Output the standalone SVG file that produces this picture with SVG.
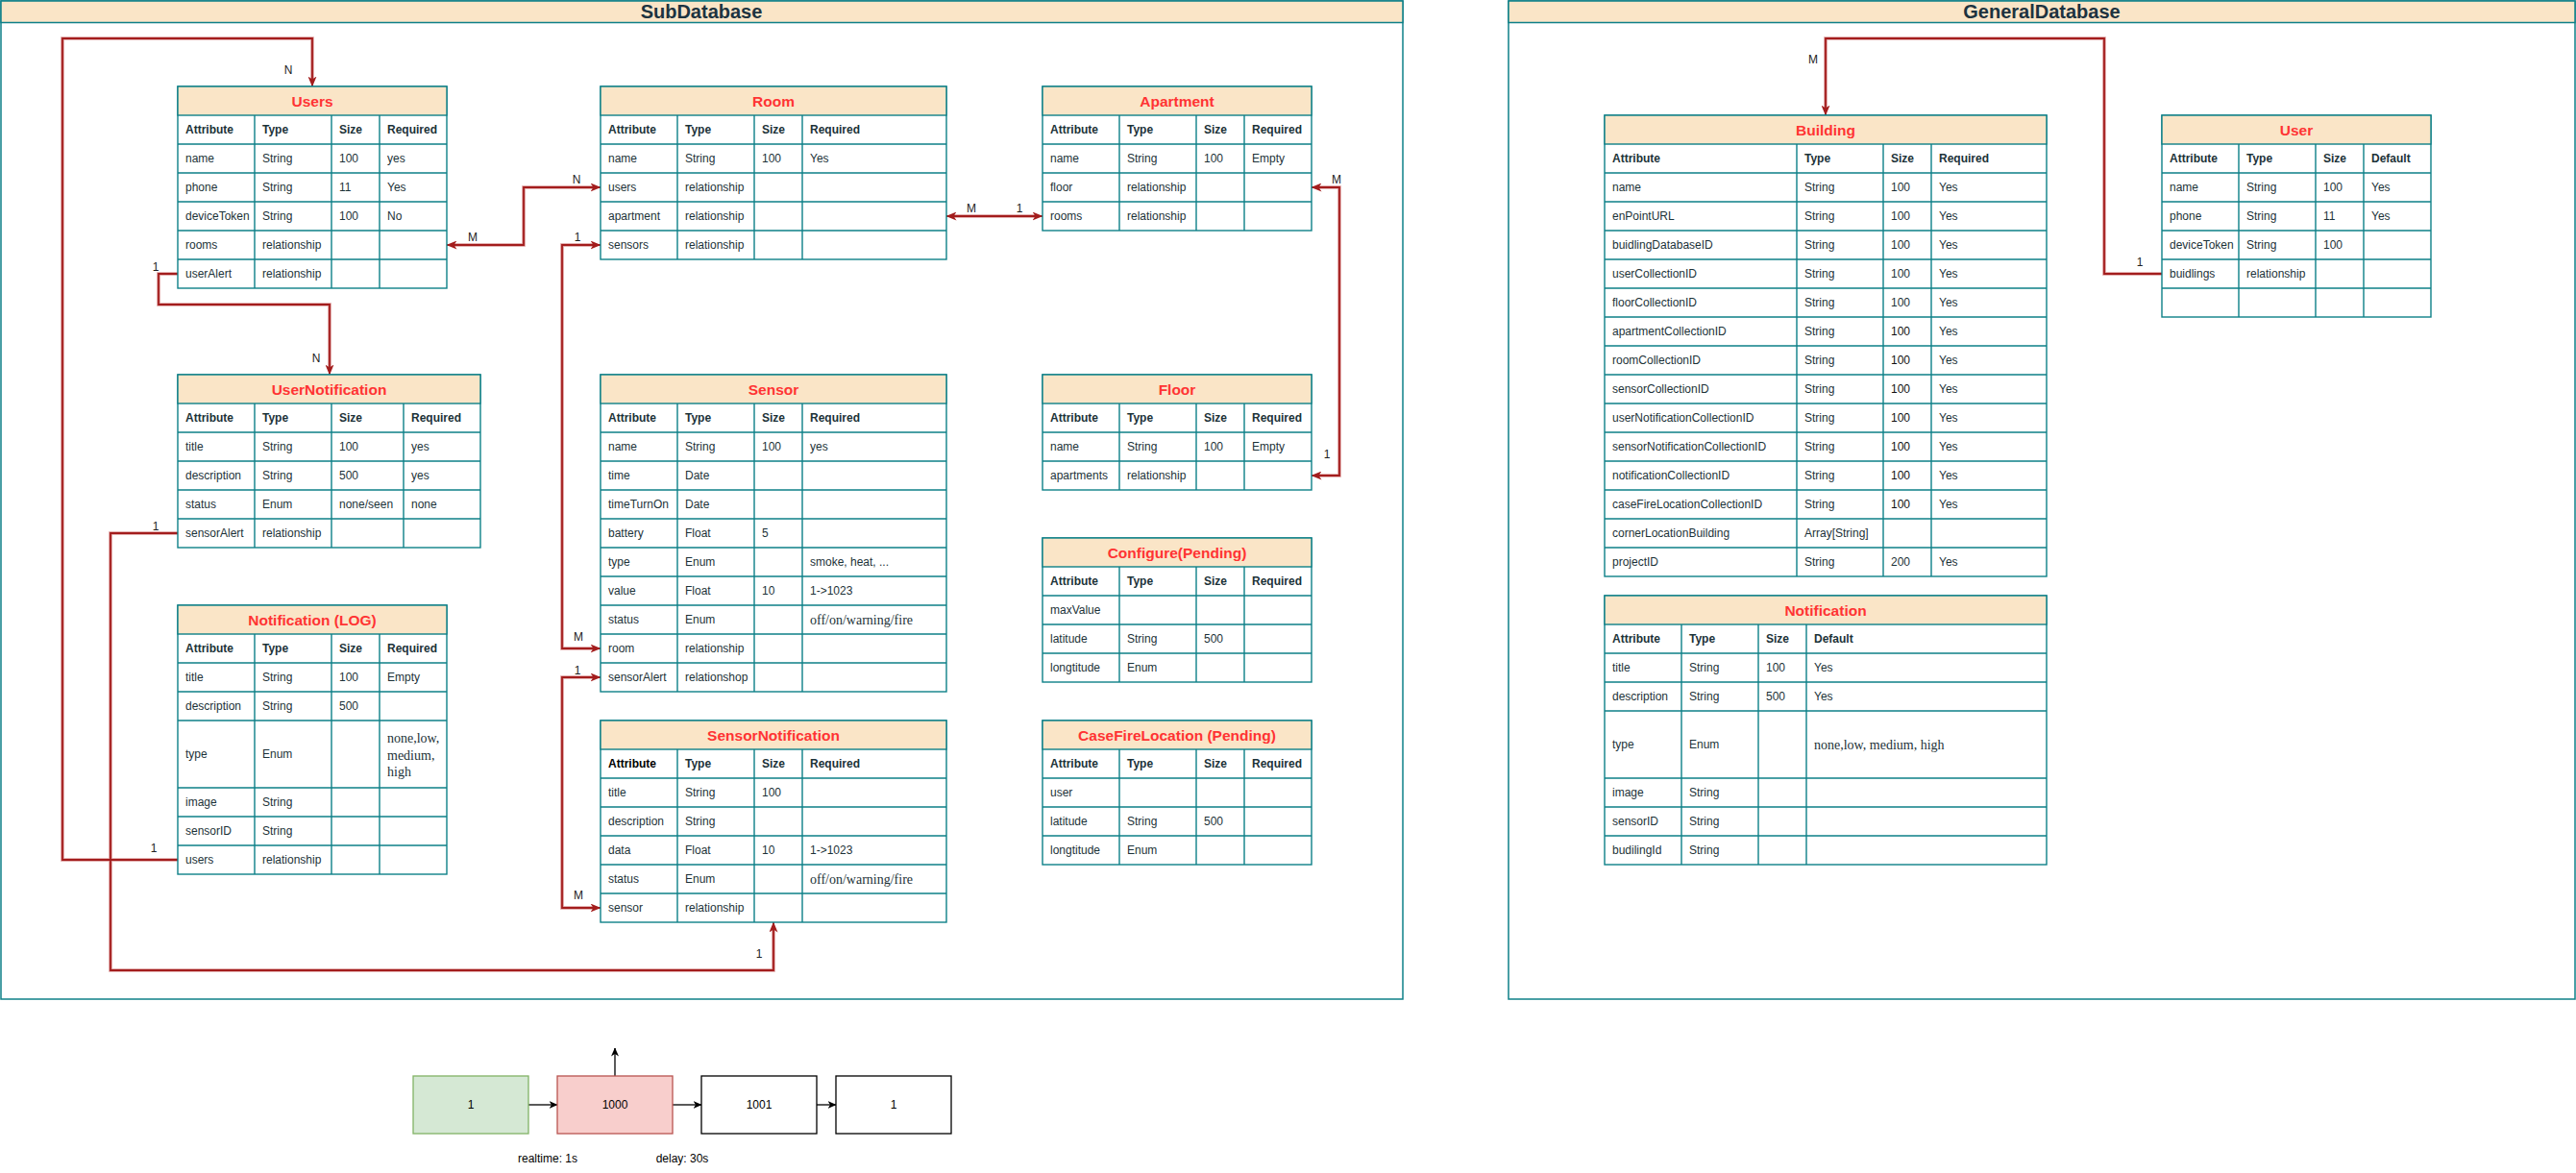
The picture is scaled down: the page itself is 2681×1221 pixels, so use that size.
<svg xmlns="http://www.w3.org/2000/svg" width="2681" height="1221" viewBox="0 0 2681 1221">
<style>
.cont{fill:#fff;stroke:#0e8088;stroke-width:1.5}
.cbar{fill:#fae5c7;stroke:#0e8088;stroke-width:1.5}
.ctt{font-family:"Liberation Sans",Arial,sans-serif;font-size:20px;font-weight:bold;fill:#1d3340;text-anchor:middle}
.tb{fill:#fff;stroke:#0e8088;stroke-width:1.4}
.hd{fill:#fae5c7;stroke:#0e8088;stroke-width:1.4}
.gl{stroke:#0e8088;stroke-width:1.4;fill:none}
.ttl{font-family:"Liberation Sans",Arial,sans-serif;font-size:15.5px;font-weight:bold;fill:#ff3333;text-anchor:middle}
.th{font-family:"Liberation Sans",Arial,sans-serif;font-size:12px;font-weight:bold;fill:#1c3238}
.td{font-family:"Liberation Sans",Arial,sans-serif;font-size:12px;fill:#1c3238}
.dk{fill:#111}
.sr{font-family:"Liberation Serif","Times New Roman",serif;font-size:14px;fill:#1c3238}
.halo{fill:none;stroke:#dc9a9a;stroke-width:3.6}
.ln{fill:none;stroke:#a31d1d;stroke-width:1.8}
.lb{font-family:"Liberation Sans",Arial,sans-serif;font-size:12px;fill:#222;text-anchor:middle}
.bx{font-family:"Liberation Sans",Arial,sans-serif;font-size:12px;fill:#000;text-anchor:middle}
.bl{fill:none;stroke:#000;stroke-width:1.3}
</style>
<defs>
<marker id="ar" viewBox="0 0 11 9" refX="10.5" refY="4.5" markerWidth="11" markerHeight="9" markerUnits="userSpaceOnUse" orient="auto-start-reverse">
<path d="M0,0 L11,4.5 L0,9 L3,4.5 z" fill="#a31d1d"/>
</marker>
<marker id="ab" viewBox="0 0 9 8" refX="8.5" refY="4" markerWidth="9" markerHeight="8" markerUnits="userSpaceOnUse" orient="auto">
<path d="M0,0 L9,4 L0,8 L2.5,4 z" fill="#000"/>
</marker>
</defs>
<rect width="2681" height="1221" fill="#fff"/>

<g id="subdatabase">
<rect class="cont" x="1" y="1" width="1459" height="1039"/>
<rect class="cbar" x="1" y="1" width="1459" height="22.5"/>
<text class="ctt" x="730" y="19">SubDatabase</text>
</g>
<g id="generaldatabase">
<rect class="cont" x="1570" y="1" width="1110" height="1039"/>
<rect class="cbar" x="1570" y="1" width="1110" height="22.5"/>
<text class="ctt" x="2125" y="19">GeneralDatabase</text>
</g>

<g id="connectors">
<g class="halo-group">
<path class="halo" d="M185,895 H65 V40 H325 V84"/>
<path class="halo" d="M185,285 H165 V317 H343 V384"/>
<path class="halo" d="M185,555 H115 V1010 H805 V966"/>
<path class="halo" d="M471,255 H545 V195 H619"/>
<path class="halo" d="M619,255 H585 V675 H619"/>
<path class="halo" d="M619,705 H585 V945 H619"/>
<path class="halo" d="M991,225 H1079"/>
<path class="halo" d="M1371,195 H1394 V495 H1371"/>
<path class="halo" d="M2250,285 H2190 V40 H1900 V114"/>
</g>
<path class="ln" d="M185,895 H65 V40 H325 V90" marker-end="url(#ar)"/>
<path class="ln" d="M185,285 H165 V317 H343 V390" marker-end="url(#ar)"/>
<path class="ln" d="M185,555 H115 V1010 H805 V960" marker-end="url(#ar)"/>
<path class="ln" d="M465,255 H545 V195 H625" marker-start="url(#ar)" marker-end="url(#ar)"/>
<path class="ln" d="M625,255 H585 V675 H625" marker-start="url(#ar)" marker-end="url(#ar)"/>
<path class="ln" d="M625,705 H585 V945 H625" marker-start="url(#ar)" marker-end="url(#ar)"/>
<path class="ln" d="M985,225 H1085" marker-start="url(#ar)" marker-end="url(#ar)"/>
<path class="ln" d="M1365,195 H1394 V495 H1365" marker-start="url(#ar)" marker-end="url(#ar)"/>
<path class="ln" d="M2250,285 H2190 V40 H1900 V120" marker-end="url(#ar)"/>
<text class="lb" x="300" y="77">N</text>
<text class="lb" x="162" y="282">1</text>
<text class="lb" x="329" y="377">N</text>
<text class="lb" x="162" y="552">1</text>
<text class="lb" x="160" y="887">1</text>
<text class="lb" x="790" y="997">1</text>
<text class="lb" x="492" y="251">M</text>
<text class="lb" x="600" y="191">N</text>
<text class="lb" x="601" y="251">1</text>
<text class="lb" x="602" y="667">M</text>
<text class="lb" x="601" y="702">1</text>
<text class="lb" x="602" y="936">M</text>
<text class="lb" x="1011" y="221">M</text>
<text class="lb" x="1061" y="221">1</text>
<text class="lb" x="1391" y="191">M</text>
<text class="lb" x="1381" y="477">1</text>
<text class="lb" x="1887" y="66">M</text>
<text class="lb" x="2227" y="277">1</text>
<path class="bl" d="M550,1150 H580" marker-end="url(#ab)"/>
<path class="bl" d="M700,1150 H730" marker-end="url(#ab)"/>
<path class="bl" d="M850,1150 H870" marker-end="url(#ab)"/>
<path class="bl" d="M640,1120 V1091" marker-end="url(#ab)"/>
</g>

<g id="users" transform="translate(185,90)">
<rect class="tb" width="280" height="210"/><rect class="hd" width="280" height="30"/>
<path class="gl" d="M0,60H280M0,90H280M0,120H280M0,150H280M0,180H280M80,30V210M160,30V210M210,30V210"/>
<text class="ttl" x="140" y="20.5">Users</text>
<text class="th" y="49"><tspan x="8">Attribute</tspan><tspan x="88">Type</tspan><tspan x="168">Size</tspan><tspan x="218">Required</tspan></text>
<text class="td" y="79"><tspan x="8">name</tspan><tspan x="88">String</tspan><tspan x="168">100</tspan><tspan x="218">yes</tspan></text>
<text class="td" y="109"><tspan x="8">phone</tspan><tspan x="88">String</tspan><tspan x="168">11</tspan><tspan x="218">Yes</tspan></text>
<text class="td" y="139"><tspan x="8">deviceToken</tspan><tspan x="88">String</tspan><tspan x="168">100</tspan><tspan x="218">No</tspan></text>
<text class="td" y="169"><tspan x="8">rooms</tspan><tspan x="88">relationship</tspan></text>
<text class="td" y="199"><tspan x="8">userAlert</tspan><tspan x="88">relationship</tspan></text>
</g>

<g id="room" transform="translate(625,90)">
<rect class="tb" width="360" height="180"/><rect class="hd" width="360" height="30"/>
<path class="gl" d="M0,60H360M0,90H360M0,120H360M0,150H360M80,30V180M160,30V180M210,30V180"/>
<text class="ttl" x="180" y="20.5">Room</text>
<text class="th" y="49"><tspan x="8">Attribute</tspan><tspan x="88">Type</tspan><tspan x="168">Size</tspan><tspan x="218">Required</tspan></text>
<text class="td" y="79"><tspan x="8">name</tspan><tspan x="88">String</tspan><tspan x="168">100</tspan><tspan x="218">Yes</tspan></text>
<text class="td" y="109"><tspan x="8">users</tspan><tspan x="88">relationship</tspan></text>
<text class="td" y="139"><tspan x="8">apartment</tspan><tspan x="88">relationship</tspan></text>
<text class="td" y="169"><tspan x="8">sensors</tspan><tspan x="88">relationship</tspan></text>
</g>

<g id="apartment" transform="translate(1085,90)">
<rect class="tb" width="280" height="150"/><rect class="hd" width="280" height="30"/>
<path class="gl" d="M0,60H280M0,90H280M0,120H280M80,30V150M160,30V150M210,30V150"/>
<text class="ttl" x="140" y="20.5">Apartment</text>
<text class="th" y="49"><tspan x="8">Attribute</tspan><tspan x="88">Type</tspan><tspan x="168">Size</tspan><tspan x="218">Required</tspan></text>
<text class="td" y="79"><tspan x="8">name</tspan><tspan x="88">String</tspan><tspan x="168">100</tspan><tspan x="218">Empty</tspan></text>
<text class="td" y="109"><tspan x="8">floor</tspan><tspan x="88">relationship</tspan></text>
<text class="td" y="139"><tspan x="8">rooms</tspan><tspan x="88">relationship</tspan></text>
</g>

<g id="usernotification" transform="translate(185,390)">
<rect class="tb" width="315" height="180"/><rect class="hd" width="315" height="30"/>
<path class="gl" d="M0,60H315M0,90H315M0,120H315M0,150H315M80,30V180M160,30V180M235,30V180"/>
<text class="ttl" x="157.5" y="20.5">UserNotification</text>
<text class="th" y="49"><tspan x="8">Attribute</tspan><tspan x="88">Type</tspan><tspan x="168">Size</tspan><tspan x="243">Required</tspan></text>
<text class="td" y="79"><tspan x="8">title</tspan><tspan x="88">String</tspan><tspan x="168">100</tspan><tspan x="243">yes</tspan></text>
<text class="td" y="109"><tspan x="8">description</tspan><tspan x="88">String</tspan><tspan x="168">500</tspan><tspan x="243">yes</tspan></text>
<text class="td" y="139"><tspan x="8">status</tspan><tspan x="88">Enum</tspan><tspan x="168">none/seen</tspan><tspan x="243">none</tspan></text>
<text class="td" y="169"><tspan x="8">sensorAlert</tspan><tspan x="88">relationship</tspan></text>
</g>

<g id="sensor" transform="translate(625,390)">
<rect class="tb" width="360" height="330"/><rect class="hd" width="360" height="30"/>
<path class="gl" d="M0,60H360M0,90H360M0,120H360M0,150H360M0,180H360M0,210H360M0,240H360M0,270H360M0,300H360M80,30V330M160,30V330M210,30V330"/>
<text class="ttl" x="180" y="20.5">Sensor</text>
<text class="th" y="49"><tspan x="8">Attribute</tspan><tspan x="88">Type</tspan><tspan x="168">Size</tspan><tspan x="218">Required</tspan></text>
<text class="td" y="79"><tspan x="8">name</tspan><tspan x="88">String</tspan><tspan x="168">100</tspan><tspan x="218">yes</tspan></text>
<text class="td" y="109"><tspan x="8">time</tspan><tspan x="88">Date</tspan></text>
<text class="td" y="139"><tspan x="8">timeTurnOn</tspan><tspan x="88">Date</tspan></text>
<text class="td" y="169"><tspan x="8">battery</tspan><tspan x="88">Float</tspan><tspan x="168">5</tspan></text>
<text class="td" y="199"><tspan x="8">type</tspan><tspan x="88">Enum</tspan><tspan x="218">smoke, heat, ...</tspan></text>
<text class="td" y="229"><tspan x="8">value</tspan><tspan x="88">Float</tspan><tspan x="168">10</tspan><tspan x="218">1-&gt;1023</tspan></text>
<text class="td" y="259"><tspan x="8">status</tspan><tspan x="88">Enum</tspan></text>
<text class="sr" x="218" y="260">off/on/warning/fire</text>
<text class="td" y="289"><tspan x="8">room</tspan><tspan x="88">relationship</tspan></text>
<text class="td" y="319"><tspan x="8">sensorAlert</tspan><tspan x="88">relationshop</tspan></text>
</g>

<g id="floor" transform="translate(1085,390)">
<rect class="tb" width="280" height="120"/><rect class="hd" width="280" height="30"/>
<path class="gl" d="M0,60H280M0,90H280M80,30V120M160,30V120M210,30V120"/>
<text class="ttl" x="140" y="20.5">Floor</text>
<text class="th" y="49"><tspan x="8">Attribute</tspan><tspan x="88">Type</tspan><tspan x="168">Size</tspan><tspan x="218">Required</tspan></text>
<text class="td" y="79"><tspan x="8">name</tspan><tspan x="88">String</tspan><tspan x="168">100</tspan><tspan x="218">Empty</tspan></text>
<text class="td" y="109"><tspan x="8">apartments</tspan><tspan x="88">relationship</tspan></text>
</g>

<g id="configure" transform="translate(1085,560)">
<rect class="tb" width="280" height="150"/><rect class="hd" width="280" height="30"/>
<path class="gl" d="M0,60H280M0,90H280M0,120H280M80,30V150M160,30V150M210,30V150"/>
<text class="ttl" x="140" y="20.5">Configure(Pending)</text>
<text class="th" y="49"><tspan x="8">Attribute</tspan><tspan x="88">Type</tspan><tspan x="168">Size</tspan><tspan x="218">Required</tspan></text>
<text class="td" y="79"><tspan x="8">maxValue</tspan></text>
<text class="td" y="109"><tspan x="8">latitude</tspan><tspan x="88">String</tspan><tspan x="168">500</tspan></text>
<text class="td" y="139"><tspan x="8">longtitude</tspan><tspan x="88">Enum</tspan></text>
</g>

<g id="notificationlog" transform="translate(185,630)">
<rect class="tb" width="280" height="280"/><rect class="hd" width="280" height="30"/>
<path class="gl" d="M0,60H280M0,90H280M0,120H280M0,190H280M0,220H280M0,250H280M80,30V280M160,30V280M210,30V280"/>
<text class="ttl" x="140" y="20.5">Notification (LOG)</text>
<text class="th" y="49"><tspan x="8">Attribute</tspan><tspan x="88">Type</tspan><tspan x="168">Size</tspan><tspan x="218">Required</tspan></text>
<text class="td" y="79"><tspan x="8">title</tspan><tspan x="88">String</tspan><tspan x="168">100</tspan><tspan x="218">Empty</tspan></text>
<text class="td" y="109"><tspan x="8">description</tspan><tspan x="88">String</tspan><tspan x="168">500</tspan></text>
<text class="td" y="159"><tspan x="8">type</tspan><tspan x="88">Enum</tspan></text>
<text class="sr"><tspan x="218" y="143">none,low,</tspan><tspan x="218" y="160.5">medium,</tspan><tspan x="218" y="178">high</tspan></text>
<text class="td" y="209"><tspan x="8">image</tspan><tspan x="88">String</tspan></text>
<text class="td" y="239"><tspan x="8">sensorID</tspan><tspan x="88">String</tspan></text>
<text class="td" y="269"><tspan x="8">users</tspan><tspan x="88">relationship</tspan></text>
</g>

<g id="sensornotification" transform="translate(625,750)">
<rect class="tb" width="360" height="210"/><rect class="hd" width="360" height="30"/>
<path class="gl" d="M0,60H360M0,90H360M0,120H360M0,150H360M0,180H360M80,30V210M160,30V210M210,30V210"/>
<text class="ttl" x="180" y="20.5">SensorNotification</text>
<text class="th" y="49"><tspan x="8" fill="#000">Attribute</tspan><tspan x="88">Type</tspan><tspan x="168">Size</tspan><tspan x="218">Required</tspan></text>
<text class="td" y="79"><tspan x="8">title</tspan><tspan x="88">String</tspan><tspan x="168">100</tspan></text>
<text class="td" y="109"><tspan x="8">description</tspan><tspan x="88">String</tspan></text>
<text class="td" y="139"><tspan x="8">data</tspan><tspan x="88">Float</tspan><tspan x="168">10</tspan><tspan x="218">1-&gt;1023</tspan></text>
<text class="td" y="169"><tspan x="8">status</tspan><tspan x="88">Enum</tspan></text>
<text class="sr" x="218" y="170">off/on/warning/fire</text>
<text class="td" y="199"><tspan x="8">sensor</tspan><tspan x="88">relationship</tspan></text>
</g>

<g id="casefirelocation" transform="translate(1085,750)">
<rect class="tb" width="280" height="150"/><rect class="hd" width="280" height="30"/>
<path class="gl" d="M0,60H280M0,90H280M0,120H280M80,30V150M160,30V150M210,30V150"/>
<text class="ttl" x="140" y="20.5">CaseFireLocation (Pending)</text>
<text class="th" y="49"><tspan x="8">Attribute</tspan><tspan x="88">Type</tspan><tspan x="168">Size</tspan><tspan x="218">Required</tspan></text>
<text class="td" y="79"><tspan x="8">user</tspan></text>
<text class="td" y="109"><tspan x="8">latitude</tspan><tspan x="88">String</tspan><tspan x="168">500</tspan></text>
<text class="td" y="139"><tspan x="8">longtitude</tspan><tspan x="88">Enum</tspan></text>
</g>

<g id="building" transform="translate(1670,120)">
<rect class="tb" width="460" height="480"/><rect class="hd" width="460" height="30"/>
<path class="gl" d="M0,60H460M0,90H460M0,120H460M0,150H460M0,180H460M0,210H460M0,240H460M0,270H460M0,300H460M0,330H460M0,360H460M0,390H460M0,420H460M0,450H460M200,30V480M290,30V480M340,30V480"/>
<text class="ttl" x="230" y="20.5">Building</text>
<text class="th" y="49"><tspan x="8">Attribute</tspan><tspan x="208">Type</tspan><tspan x="298">Size</tspan><tspan x="348">Required</tspan></text>
<text class="td" y="79"><tspan x="8">name</tspan><tspan x="208">String</tspan><tspan x="298">100</tspan><tspan x="348">Yes</tspan></text>
<text class="td" y="109"><tspan x="8">enPointURL</tspan><tspan x="208">String</tspan><tspan x="298">100</tspan><tspan x="348">Yes</tspan></text>
<text class="td" y="139"><tspan x="8">buidlingDatabaseID</tspan><tspan x="208">String</tspan><tspan x="298">100</tspan><tspan x="348">Yes</tspan></text>
<text class="td" y="169"><tspan x="8">userCollectionID</tspan><tspan x="208">String</tspan><tspan x="298">100</tspan><tspan x="348">Yes</tspan></text>
<text class="td" y="199"><tspan x="8">floorCollectionID</tspan><tspan x="208">String</tspan><tspan x="298">100</tspan><tspan x="348">Yes</tspan></text>
<text class="td" y="229"><tspan x="8">apartmentCollectionID</tspan><tspan x="208">String</tspan><tspan x="298" class="dk">100</tspan><tspan x="348">Yes</tspan></text>
<text class="td" y="259"><tspan x="8">roomCollectionID</tspan><tspan x="208">String</tspan><tspan x="298" class="dk">100</tspan><tspan x="348">Yes</tspan></text>
<text class="td" y="289"><tspan x="8">sensorCollectionID</tspan><tspan x="208">String</tspan><tspan x="298" class="dk">100</tspan><tspan x="348">Yes</tspan></text>
<text class="td" y="319"><tspan x="8">userNotificationCollectionID</tspan><tspan x="208">String</tspan><tspan x="298" class="dk">100</tspan><tspan x="348">Yes</tspan></text>
<text class="td" y="349"><tspan x="8">sensorNotificationCollectionID</tspan><tspan x="208">String</tspan><tspan x="298" class="dk">100</tspan><tspan x="348">Yes</tspan></text>
<text class="td" y="379"><tspan x="8">notificationCollectionID</tspan><tspan x="208">String</tspan><tspan x="298" class="dk">100</tspan><tspan x="348">Yes</tspan></text>
<text class="td" y="409"><tspan x="8">caseFireLocationCollectionID</tspan><tspan x="208">String</tspan><tspan x="298" class="dk">100</tspan><tspan x="348">Yes</tspan></text>
<text class="td" y="439"><tspan x="8">cornerLocationBuilding</tspan><tspan x="208">Array[String]</tspan></text>
<text class="td" y="469"><tspan x="8">projectID</tspan><tspan x="208">String</tspan><tspan x="298">200</tspan><tspan x="348">Yes</tspan></text>
</g>

<g id="user" transform="translate(2250,120)">
<rect class="tb" width="280" height="210"/><rect class="hd" width="280" height="30"/>
<path class="gl" d="M0,60H280M0,90H280M0,120H280M0,150H280M0,180H280M80,30V210M160,30V210M210,30V210"/>
<text class="ttl" x="140" y="20.5">User</text>
<text class="th" y="49"><tspan x="8">Attribute</tspan><tspan x="88">Type</tspan><tspan x="168">Size</tspan><tspan x="218">Default</tspan></text>
<text class="td" y="79"><tspan x="8">name</tspan><tspan x="88">String</tspan><tspan x="168">100</tspan><tspan x="218">Yes</tspan></text>
<text class="td" y="109"><tspan x="8">phone</tspan><tspan x="88">String</tspan><tspan x="168">11</tspan><tspan x="218">Yes</tspan></text>
<text class="td" y="139"><tspan x="8">deviceToken</tspan><tspan x="88">String</tspan><tspan x="168">100</tspan></text>
<text class="td" y="169"><tspan x="8">buidlings</tspan><tspan x="88">relationship</tspan></text>
</g>

<g id="notification" transform="translate(1670,620)">
<rect class="tb" width="460" height="280"/><rect class="hd" width="460" height="30"/>
<path class="gl" d="M0,60H460M0,90H460M0,120H460M0,190H460M0,220H460M0,250H460M80,30V280M160,30V280M210,30V280"/>
<text class="ttl" x="230" y="20.5">Notification</text>
<text class="th" y="49"><tspan x="8">Attribute</tspan><tspan x="88">Type</tspan><tspan x="168">Size</tspan><tspan x="218">Default</tspan></text>
<text class="td" y="79"><tspan x="8">title</tspan><tspan x="88">String</tspan><tspan x="168">100</tspan><tspan x="218">Yes</tspan></text>
<text class="td" y="109"><tspan x="8">description</tspan><tspan x="88">String</tspan><tspan x="168">500</tspan><tspan x="218">Yes</tspan></text>
<text class="td" y="159"><tspan x="8">type</tspan><tspan x="88">Enum</tspan></text>
<text class="sr" x="218" y="160">none,low, medium, high</text>
<text class="td" y="209"><tspan x="8">image</tspan><tspan x="88">String</tspan></text>
<text class="td" y="239"><tspan x="8">sensorID</tspan><tspan x="88">String</tspan></text>
<text class="td" y="269"><tspan x="8">budilingId</tspan><tspan x="88">String</tspan></text>
</g>

<g id="box1"><rect x="430" y="1120" width="120" height="60" fill="#d5e8d4" stroke="#82b366" stroke-width="1.3"/><text class="bx" x="490" y="1154">1</text></g>
<g id="box1000"><rect x="580" y="1120" width="120" height="60" fill="#f8cecc" stroke="#b85450" stroke-width="1.3"/><text class="bx" x="640" y="1154">1000</text></g>
<g id="box1001"><rect x="730" y="1120" width="120" height="60" fill="#fff" stroke="#000" stroke-width="1.3"/><text class="bx" x="790" y="1154">1001</text></g>
<g id="box1b"><rect x="870" y="1120" width="120" height="60" fill="#fff" stroke="#000" stroke-width="1.3"/><text class="bx" x="930" y="1154">1</text></g>
<text class="bx" x="570" y="1210">realtime: 1s</text>
<text class="bx" x="710" y="1210">delay: 30s</text>
</svg>
